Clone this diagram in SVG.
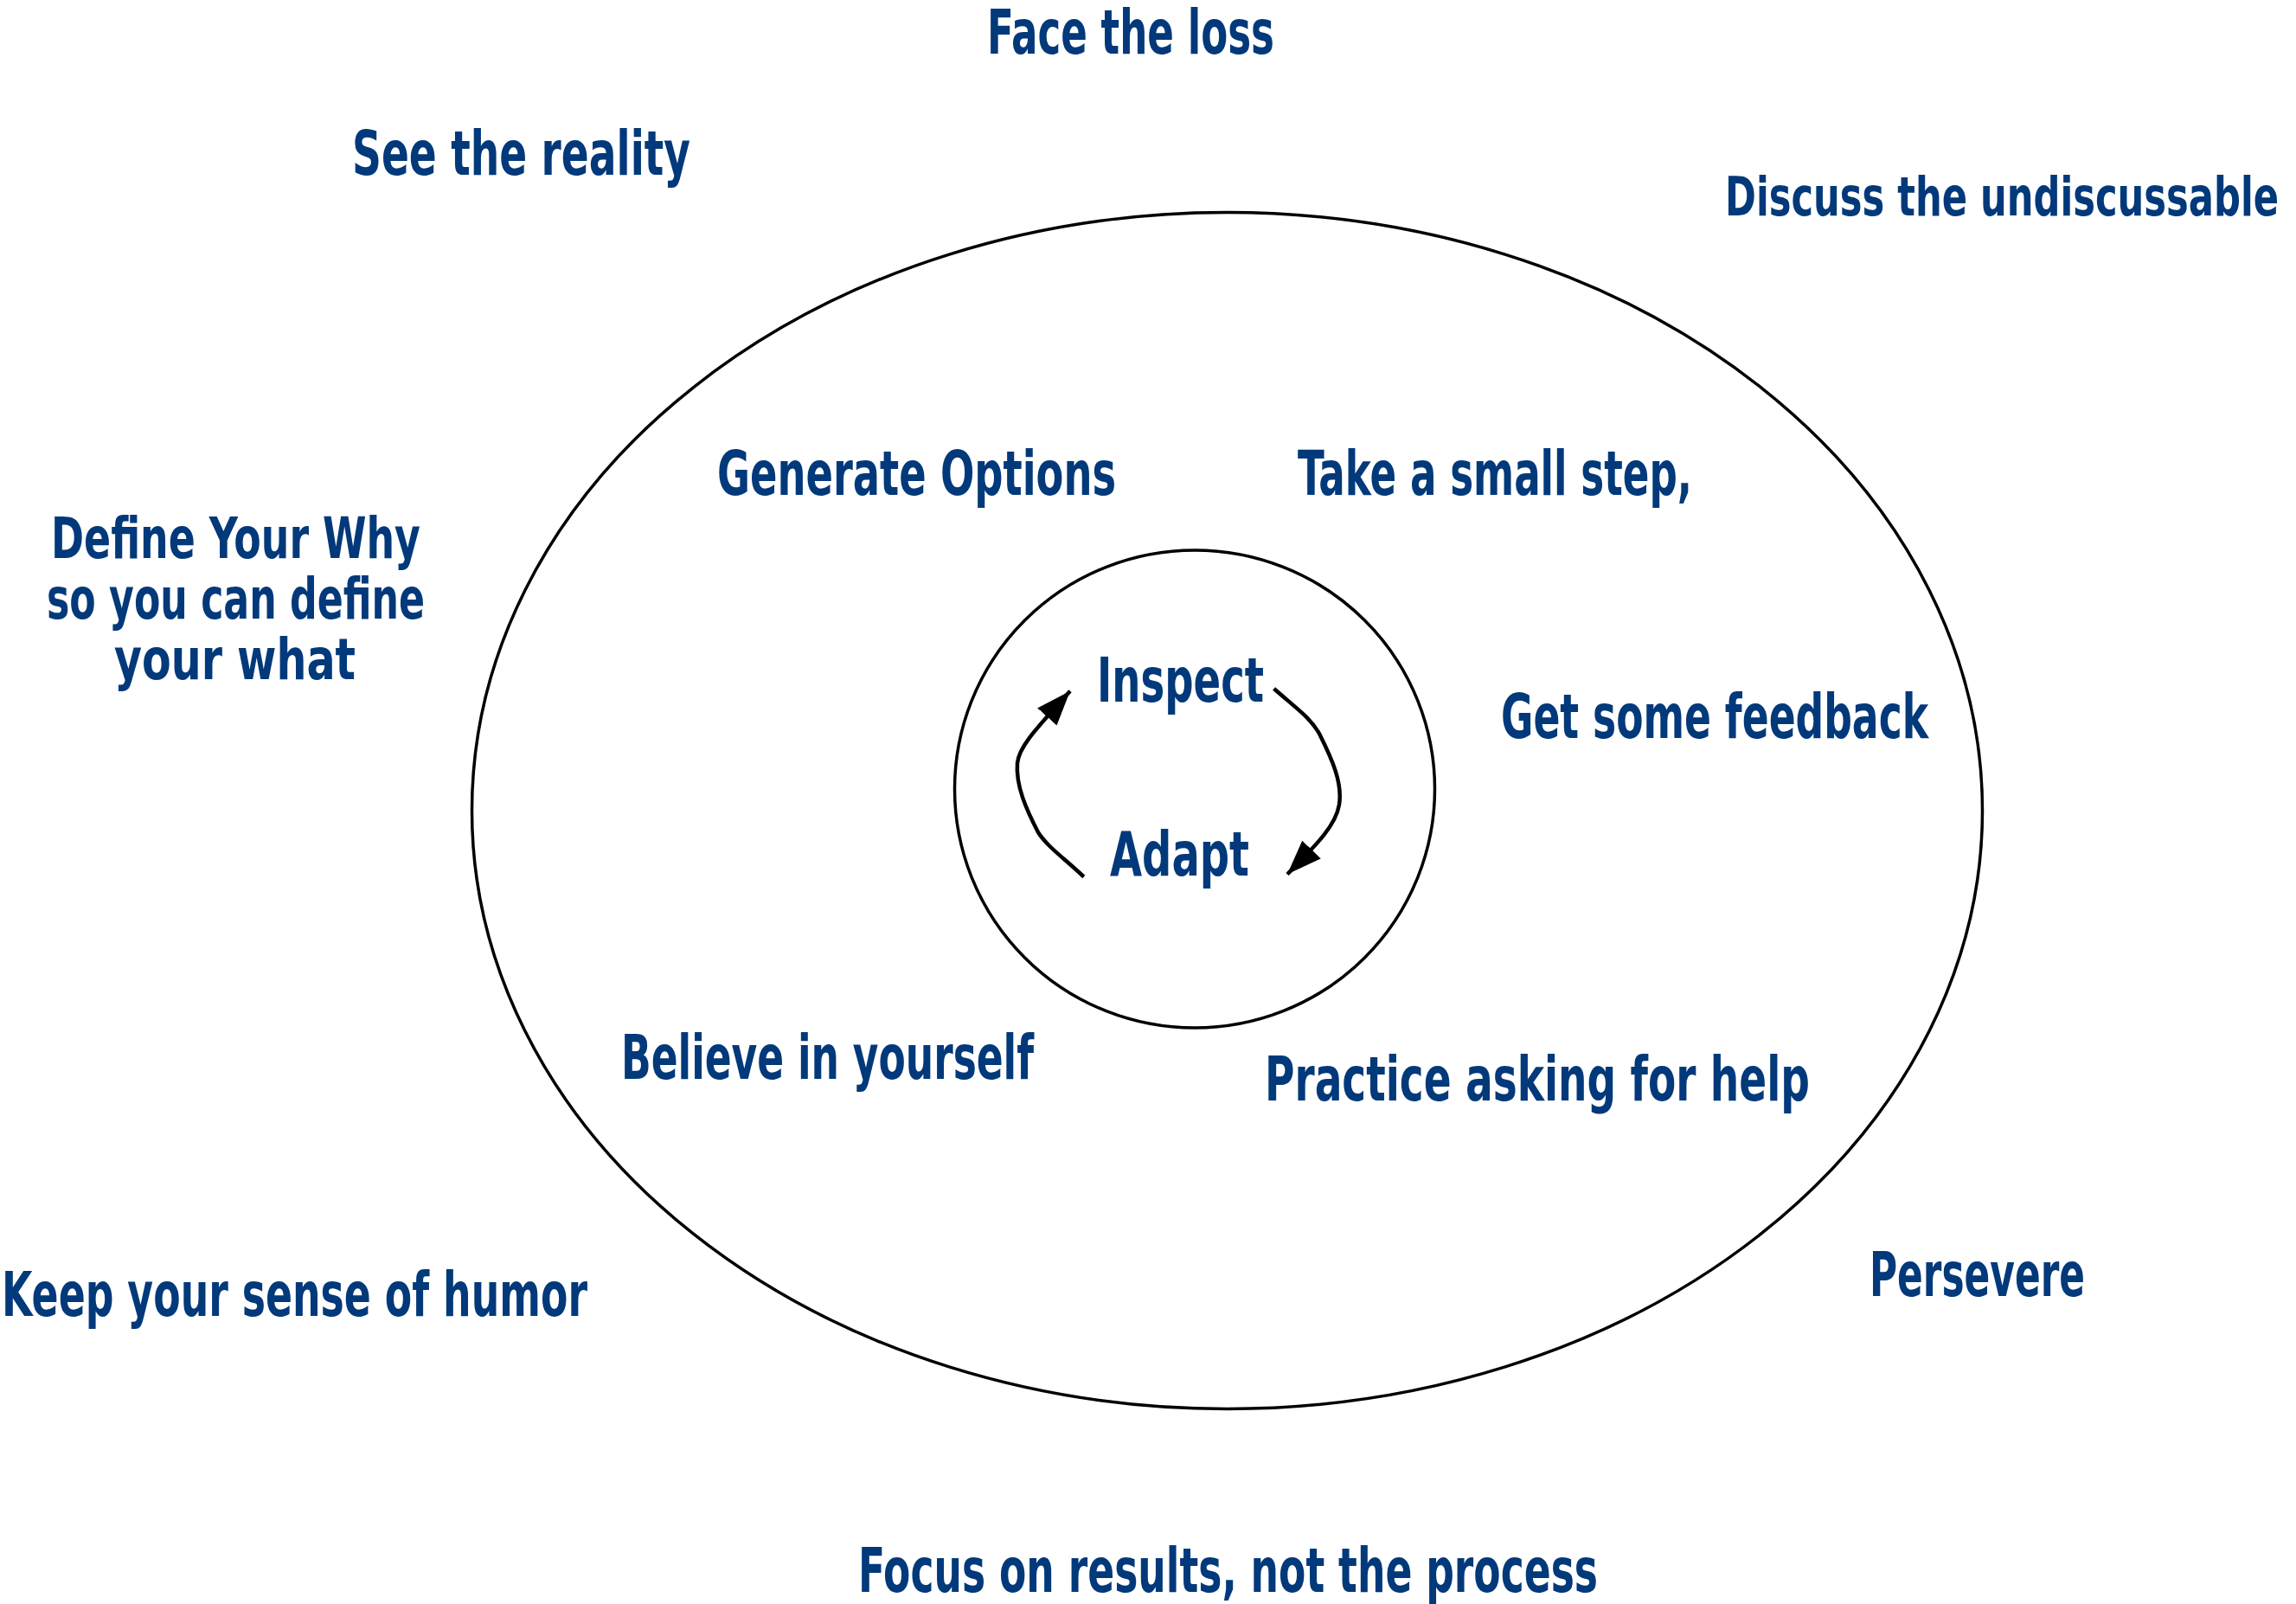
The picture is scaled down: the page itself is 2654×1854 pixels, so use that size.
<svg xmlns="http://www.w3.org/2000/svg" width="2654" height="1854" viewBox="0 0 2654 1854">
<style>
.t{font-family:"Liberation Sans Narrow","DejaVu Sans Condensed","Liberation Sans",sans-serif;font-weight:bold;font-size:72px;fill:#02397a}
.s{font-size:66px}
.d{font-size:63px}
.ring{fill:none;stroke:#000;stroke-width:3.5}
.arc{fill:none;stroke:#000;stroke-width:4.5}
</style>
<defs>
<marker id="ah" markerUnits="userSpaceOnUse" markerWidth="42" markerHeight="32" refX="40" refY="15" orient="auto" viewBox="0 0 42 32">
<path d="M0,0 L40,15 L0,30 z" fill="#000"/>
</marker>
</defs>
<rect width="2654" height="1854" fill="#fff"/>
<g id="outer-ring"><ellipse class="ring" cx="1418.5" cy="937" rx="873" ry="691.5"/></g>
<g id="inner-ring"><ellipse class="ring" cx="1381" cy="912" rx="277.5" ry="276"/></g>
<g id="connectors">
<path class="arc" d="M1472.6,796 C1500,820 1515,830 1525,848 C1540,878 1552,905 1548,930 C1544,955 1520,978 1488,1010.5" marker-end="url(#ah)"/>
<path class="arc" d="M1252.8,1013.5 C1230,992 1210,978 1200,962 C1186,935 1174,908 1176,882 C1178,862 1200,840 1237,798.7" marker-end="url(#ah)"/>
</g>
<g id="inspect"><text class="t" x="1268" y="811" textLength="193" lengthAdjust="spacingAndGlyphs">Inspect</text></g>
<g id="adapt"><text class="t" x="1283" y="1012" textLength="161" lengthAdjust="spacingAndGlyphs">Adapt</text></g>
<g id="face-the-loss"><text class="t" x="1141" y="62" textLength="332" lengthAdjust="spacingAndGlyphs">Face the loss</text></g>
<g id="see-the-reality"><text class="t" x="407" y="202" textLength="391" lengthAdjust="spacingAndGlyphs">See the reality</text></g>
<g id="discuss"><text class="t d" x="1994" y="249" textLength="640" lengthAdjust="spacingAndGlyphs">Discuss the undiscussable</text></g>
<g id="define-why">
<text class="t s" x="59" y="645" textLength="427" lengthAdjust="spacingAndGlyphs">Define Your Why</text>
<text class="t s" x="54" y="715" textLength="437" lengthAdjust="spacingAndGlyphs">so you can define</text>
<text class="t s" x="132" y="785" textLength="279" lengthAdjust="spacingAndGlyphs">your what</text>
</g>
<g id="generate-options"><text class="t" x="829" y="572" textLength="461" lengthAdjust="spacingAndGlyphs">Generate Options</text></g>
<g id="small-step"><text class="t" x="1500" y="572" textLength="456" lengthAdjust="spacingAndGlyphs">Take a small step,</text></g>
<g id="feedback"><text class="t" x="1735" y="853" textLength="494" lengthAdjust="spacingAndGlyphs">Get some feedback</text></g>
<g id="believe"><text class="t" x="718" y="1247" textLength="477" lengthAdjust="spacingAndGlyphs">Believe in yourself</text></g>
<g id="practice"><text class="t" x="1462" y="1272" textLength="630" lengthAdjust="spacingAndGlyphs">Practice asking for help</text></g>
<g id="humor"><text class="t" x="2" y="1521" textLength="677" lengthAdjust="spacingAndGlyphs">Keep your sense of humor</text></g>
<g id="persevere"><text class="t" x="2161" y="1498" textLength="249" lengthAdjust="spacingAndGlyphs">Persevere</text></g>
<g id="focus"><text class="t" x="992" y="1840" textLength="855" lengthAdjust="spacingAndGlyphs">Focus on results, not the process</text></g>
</svg>
